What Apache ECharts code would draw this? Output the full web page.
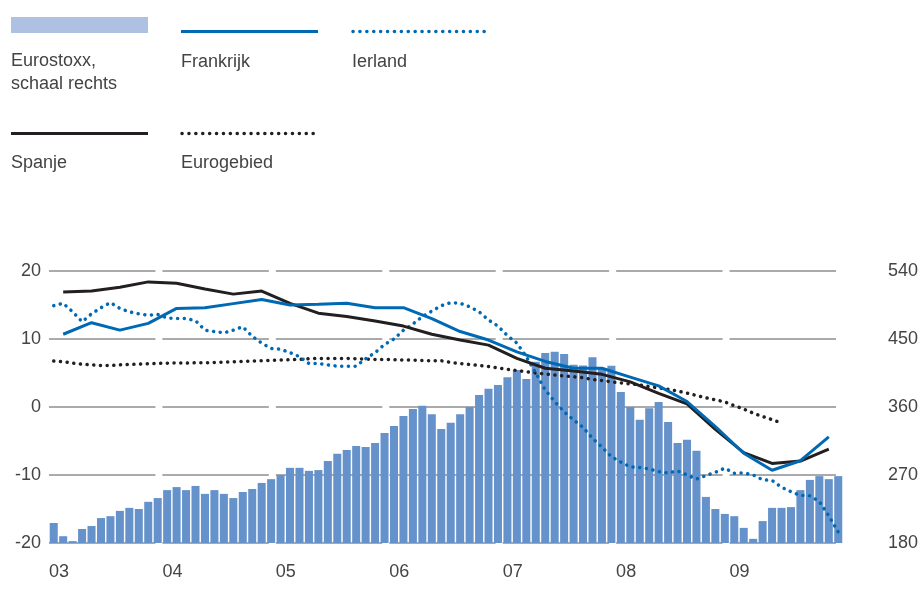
<!DOCTYPE html>
<html>
<head>
<meta charset="utf-8">
<script src="https://cdn.jsdelivr.net/npm/echarts@6/dist/echarts.min.js"></script>
<style>
html, body { margin: 0; padding: 0; background: #fff; }
#chart { width: 921px; height: 603px; }
</style>
</head>
<body>
<div id="chart"></div>
<script>
// jaartallen op de x-as (maanden jan 2003 - dec 2009)
var years = ['03', '04', '05', '06', '07', '08', '09'];
var months = [];
years.forEach(function (y) {
    for (var m = 1; m <= 12; m++) months.push('20' + y + '-' + (m < 10 ? '0' + m : m));
});

// Eurostoxx, maandelijks, schaal rechts
var eurostoxx = [
    206.5, 189, 182.5, 198.5, 202.5, 213, 215.5, 222.5, 226.5, 225, 234.5, 239.5,
    250, 254, 250, 255.5, 245, 250, 245, 239.5, 247.5, 251.5, 259.5, 264.5,
    270, 279.5, 279.5, 275.5, 276.5, 288.5, 298, 303, 308.5, 307, 312.5, 325.5,
    335, 348, 357.5, 361.5, 350.5, 331, 339, 350.5, 360, 376, 384, 389,
    399.5, 409, 397, 420, 431.5, 433, 430, 416, 415, 426, 411.5, 414.5,
    380, 360, 343, 358.5, 366.5, 340, 312.5, 316.5, 302, 241, 225, 218.5,
    215.5, 200, 185.5, 209, 226.5, 226.5, 227.5, 250, 263.5, 268.5, 264.5, 268.5
];

// kwartaalcijfers (midden van het kwartaal)
var frankrijk = [
    10.7, 12.4, 11.3, 12.3, 14.5, 14.6, 15.2, 15.8,
    15.0, 15.1, 15.25, 14.6, 14.6, 13.0, 11.1, 9.85,
    8.1, 6.7, 5.7, 5.7, 4.4, 3.1, 0.8, -2.9,
    -6.8, -9.3, -7.9, -4.4
];
var spanje = [
    16.9, 17.05, 17.6, 18.4, 18.2, 17.35, 16.6, 17.05,
    15.25, 13.8, 13.3, 12.65, 11.9, 10.7, 9.85, 9.1,
    7.15, 5.7, 5.3, 4.8, 3.7, 2.0, 0.45, -3.3,
    -6.7, -8.3, -7.95, -6.2
];

// maandcijfers
var ierland = [
    14.9, 15.25, 14.0, 12.55, 13.7, 14.6, 15.35, 14.5, 14.0, 13.7, 13.5, 13.6,
    13.1, 13.0, 13.0, 12.7, 11.3, 11.1, 10.9, 11.3, 11.8, 10.4, 9.4, 8.6,
    8.5, 8.0, 7.4, 6.4, 6.4, 6.2, 6.0, 6.0, 6.0, 7.1, 8.0, 9.2,
    10.0, 11.3, 12.2, 13.3, 14.1, 14.9, 15.35, 15.25, 14.75, 14.0, 12.8, 11.9,
    10.5, 9.4, 7.4, 5.0, 2.5, 0.8, -0.7, -1.9, -3.0, -4.6, -5.9, -7.3,
    -8.1, -8.8, -8.9, -9.1, -9.5, -9.7, -9.4, -10.0, -10.6, -10.1, -9.6, -9.0,
    -9.75, -9.7, -10.0, -10.7, -10.8, -11.8, -12.45, -13.0, -13.05, -13.9, -16.0, -18.4
];
var eurogebied = [
    6.75, 6.65, 6.45, 6.3, 6.2, 6.1, 6.1, 6.2, 6.25, 6.3, 6.35, 6.4,
    6.45, 6.5, 6.45, 6.5, 6.5, 6.55, 6.6, 6.65, 6.7, 6.75, 6.8, 6.85,
    6.9, 6.95, 7.0, 7.1, 7.15, 7.15, 7.15, 7.15, 7.1, 7.05, 7.0, 7.0,
    6.95, 6.9, 6.9, 6.85, 6.8, 6.8, 6.55, 6.4, 6.25, 6.1, 5.95, 5.75,
    5.55, 5.35, 5.2, 5.0, 4.85, 4.7, 4.55, 4.45, 4.3, 4.05, 3.9, 3.7,
    3.55, 3.4, 3.25, 3.0, 2.8, 2.6, 2.35, 2.05, 1.7, 1.35, 1.05, 0.75,
    0.2, -0.3, -0.9, -1.4, -1.85, -2.35
];

var leftTicks = [-20, -10, 0, 10, 20];

var BLUE = '#0069b4';
var BLACK = '#231f20';
var BAR = '#6692cb';
var GRID = '#aaaaac';
var TEXT = '#444444';
var FONT = 'Liberation Sans';
var LEGEND_FONT = '18px "Liberation Sans"';

// maandindex -> midden van de maand op de waarde-as
function monthly(arr) {
    return arr.map(function (v, i) { return [i + 0.5, v]; });
}
function quarterly(arr) {
    return arr.map(function (v, i) { return [i * 3 + 1.5, v]; });
}

// rasterlijnen per jaar, met een kleine opening voor elk jaar
var gridData = [];
years.forEach(function (y, yi) {
    leftTicks.forEach(function (t) { gridData.push([yi, t]); });
});

var dotted = { width: 3.5, type: [0.1, 6.6], cap: 'round' };

var myChart = echarts.init(document.getElementById('chart'));

var option = {
    animation: false,
    textStyle: { fontFamily: FONT },
    grid: { left: 49, right: 78, top: 271, bottom: 60 },
    xAxis: [{
        type: 'category',
        data: months,
        axisLine: { show: false },
        axisTick: { show: false },
        axisLabel: { show: false },
        splitLine: { show: false }
    }, {
        type: 'value',
        min: 0,
        max: 84,
        interval: 12,
        position: 'bottom',
        axisLine: { show: false },
        axisTick: { show: false },
        splitLine: { show: false },
        axisLabel: {
            show: true,
            align: 'left',
            margin: 20,
            color: TEXT,
            fontSize: 18,
            fontFamily: FONT,
            formatter: function (v) { return v < 84 ? years[v / 12] : ''; }
        }
    }],
    yAxis: [{
        type: 'value',
        min: -20,
        max: 20,
        interval: 10,
        position: 'left',
        axisLine: { show: false },
        axisTick: { show: false },
        splitLine: { show: false },
        axisLabel: {
            margin: 8,
            color: TEXT,
            fontSize: 18,
            fontFamily: FONT,
            verticalAlign: 'middle',
            padding: [0, 0, 13, 0]
        }
    }, {
        type: 'value',
        min: 180,
        max: 540,
        interval: 90,
        position: 'right',
        axisLine: { show: false },
        axisTick: { show: false },
        splitLine: { show: false },
        axisLabel: {
            margin: 45,
            color: TEXT,
            fontSize: 18,
            fontFamily: FONT,
            verticalAlign: 'middle',
            padding: [0, 0, 13, 0]
        }
    }],
    graphic: [
        // legenda
        { type: 'rect', shape: { x: 11, y: 17, width: 137, height: 16 }, style: { fill: '#afc1e3' } },
        { type: 'text', left: 11, top: 50, style: { text: 'Eurostoxx,\nschaal rechts', font: LEGEND_FONT, fill: TEXT, lineHeight: 23 } },
        { type: 'line', shape: { x1: 181, y1: 31.5, x2: 318, y2: 31.5 }, style: { stroke: BLUE, lineWidth: 3 } },
        { type: 'text', left: 181, top: 53, style: { text: 'Frankrijk', font: LEGEND_FONT, fill: TEXT } },
        { type: 'line', shape: { x1: 353, y1: 31.5, x2: 488, y2: 31.5 }, style: { stroke: BLUE, lineWidth: 3.5, lineDash: [0.1, 6.8], lineCap: 'round' } },
        { type: 'text', left: 352, top: 53, style: { text: 'Ierland', font: LEGEND_FONT, fill: TEXT } },
        { type: 'line', shape: { x1: 11, y1: 133.5, x2: 148, y2: 133.5 }, style: { stroke: BLACK, lineWidth: 3 } },
        { type: 'text', left: 11, top: 154, style: { text: 'Spanje', font: LEGEND_FONT, fill: TEXT } },
        { type: 'line', shape: { x1: 182, y1: 133.5, x2: 317, y2: 133.5 }, style: { stroke: BLACK, lineWidth: 3.5, lineDash: [0.1, 6.8], lineCap: 'round' } },
        { type: 'text', left: 181, top: 154, style: { text: 'Eurogebied', font: LEGEND_FONT, fill: TEXT } }
    ],
    series: [
        {
            name: 'raster',
            type: 'custom',
            xAxisIndex: 1,
            yAxisIndex: 0,
            z: 1,
            silent: true,
            data: gridData,
            renderItem: function (params, api) {
                var yi = api.value(0);
                var p1 = api.coord([yi * 12, api.value(1)]);
                var p2 = api.coord([(yi + 1) * 12, api.value(1)]);
                return {
                    type: 'line',
                    shape: { x1: p1[0], y1: p1[1], x2: p2[0] - 7, y2: p2[1] },
                    style: { stroke: GRID, lineWidth: 2 }
                };
            }
        },
        {
            name: 'Eurostoxx, schaal rechts',
            type: 'bar',
            xAxisIndex: 0,
            yAxisIndex: 1,
            z: 2,
            barCategoryGap: '15%',
            itemStyle: { color: BAR },
            data: eurostoxx
        },
        {
            name: 'Eurogebied',
            type: 'line',
            xAxisIndex: 1,
            yAxisIndex: 0,
            z: 3,
            symbol: 'none',
            lineStyle: Object.assign({ color: BLACK }, dotted),
            data: monthly(eurogebied)
        },
        {
            name: 'Ierland',
            type: 'line',
            xAxisIndex: 1,
            yAxisIndex: 0,
            z: 3,
            symbol: 'none',
            lineStyle: Object.assign({ color: BLUE }, dotted),
            data: monthly(ierland)
        },
        {
            name: 'Spanje',
            type: 'line',
            xAxisIndex: 1,
            yAxisIndex: 0,
            z: 4,
            symbol: 'none',
            lineStyle: { color: BLACK, width: 3 },
            data: quarterly(spanje)
        },
        {
            name: 'Frankrijk',
            type: 'line',
            xAxisIndex: 1,
            yAxisIndex: 0,
            z: 4,
            symbol: 'none',
            lineStyle: { color: BLUE, width: 3 },
            data: quarterly(frankrijk)
        }
    ]
};

myChart.setOption(option);
</script>
</body>
</html>
